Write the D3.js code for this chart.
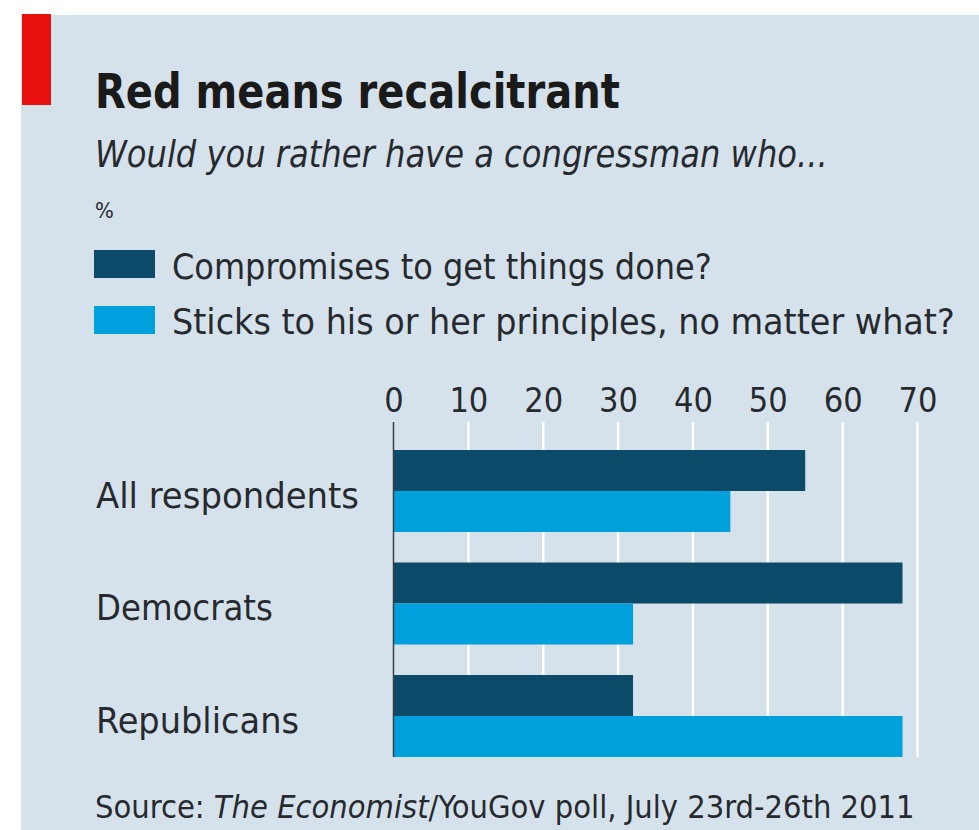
<!DOCTYPE html>
<html>
<head>
<meta charset="utf-8">
<script src="https://cdn.jsdelivr.net/npm/d3@7"></script>
<style>
  html, body { margin: 0; padding: 0; background: #ffffff; }
  svg text { font-family: "DejaVu Sans", "Roboto", sans-serif; font-stretch: condensed; }
</style>
</head>
<body>
<div id="chart"></div>
<script>
const categories = ['All respondents', 'Democrats', 'Republicans'];
const seriesNames = ['Compromises to get things done?', 'Sticks to his or her principles, no matter what?'];
const compromises = [55, 68, 32];
const principles = [45, 32, 68];
const tickValues = [0, 10, 20, 30, 40, 50, 60, 70];
const colors = ['#0c4a6a', '#00a0dd'];

const width = 979,
  height = 830,
  ink = '#262a2e';

let svg = d3.select('#chart').append('svg')
  .attr('width', width)
  .attr('height', height);

// squeeze a text to the width it has in the printed chart
function fit(sel, w) {
  let node = sel.node(),
    x = +sel.attr('x') || 0,
    cur = node.getComputedTextLength();
  if (cur > 0)
    sel.attr('transform', `translate(${x},0) scale(${w / cur},1) translate(${-x},0)`);
  return sel;
}

svg.append('rect')
  .attr('x', 21).attr('y', 15)
  .attr('width', width - 21).attr('height', height - 15)
  .attr('fill', '#d6e2eb');

svg.append('rect')
  .attr('x', 22).attr('y', 14)
  .attr('width', 29).attr('height', 91)
  .attr('fill', '#e8110d');

fit(svg.append('text')
  .attr('x', 95).attr('y', 108)
  .attr('font-size', 48).attr('font-weight', 'bold')
  .attr('fill', '#1a1a1a')
  .text('Red means recalcitrant'), 525);

fit(svg.append('text')
  .attr('x', 95).attr('y', 167)
  .attr('font-size', 38).attr('font-style', 'italic')
  .attr('fill', ink)
  .text('Would you rather have a congressman who...'), 733);

svg.append('text')
  .attr('x', 95).attr('y', 218)
  .attr('font-size', 22)
  .attr('fill', ink)
  .text('%');

// legend
let legend = svg.append('g');
seriesNames.forEach((name, i) => {
  legend.append('rect')
    .attr('x', 94).attr('y', 250 + i * 56)
    .attr('width', 61).attr('height', 28)
    .attr('fill', colors[i]);
  fit(legend.append('text')
    .attr('x', 172).attr('y', 279 + i * 55)
    .attr('font-size', 36)
    .attr('fill', ink)
    .text(name), i === 0 ? 540 : 783);
});

// scales
let x = d3.scaleLinear()
  .domain([0, 70])
  .range([393.5, 917.5]);

let y = d3.scaleBand()
  .domain(categories)
  .range([450, 757])
  .paddingInner(0.271)
  .paddingOuter(0);

let ySub = d3.scaleBand()
  .domain([0, 1])
  .range([0, y.bandwidth()]);

// gridlines
svg.append('g')
  .selectAll('line')
  .data(tickValues.filter(d => d > 0))
  .join('line')
  .attr('x1', d => x(d)).attr('x2', d => x(d))
  .attr('y1', 422).attr('y2', 757)
  .attr('stroke', '#ffffff')
  .attr('stroke-width', 2.5);

// top axis labels
let axis = svg.append('g')
  .attr('transform', 'translate(0,412)')
  .call(d3.axisTop(x).tickValues(tickValues).tickSize(0).tickPadding(0));
axis.select('.domain').remove();
axis.selectAll('text')
  .attr('font-size', 34)
  .attr('font-family', null)
  .attr('fill', ink)
  .attr('dy', 0);

// bars
let rows = categories.map((c, i) => ({ cat: c, vals: [compromises[i], principles[i]] }));

let groups = svg.append('g')
  .selectAll('g')
  .data(rows)
  .join('g')
  .attr('transform', d => `translate(0,${y(d.cat)})`);

groups.selectAll('rect')
  .data(d => d.vals)
  .join('rect')
  .attr('x', x(0))
  .attr('y', (d, i) => ySub(i))
  .attr('width', d => x(d) - x(0))
  .attr('height', ySub.bandwidth())
  .attr('fill', (d, i) => colors[i]);

// zero line
svg.append('line')
  .attr('x1', x(0)).attr('x2', x(0))
  .attr('y1', 422).attr('y2', 757)
  .attr('stroke', '#3a3f44')
  .attr('stroke-width', 1.5);

// category labels
const labelWidths = [263, 177, 203];
categories.forEach((c, i) => {
  fit(svg.append('text')
    .attr('x', 96)
    .attr('y', y(c) + y.bandwidth() / 2 + 17)
    .attr('font-size', 36)
    .attr('fill', ink)
    .text(c), labelWidths[i]);
});

// source
let source = svg.append('text')
  .attr('x', 95).attr('y', 818)
  .attr('font-size', 32)
  .attr('fill', ink);
source.append('tspan').text('Source: ');
source.append('tspan').attr('font-style', 'italic').text('The Economist');
source.append('tspan').text('/YouGov poll, July 23rd-26th 2011');
fit(source, 820);
</script>
</body>
</html>
